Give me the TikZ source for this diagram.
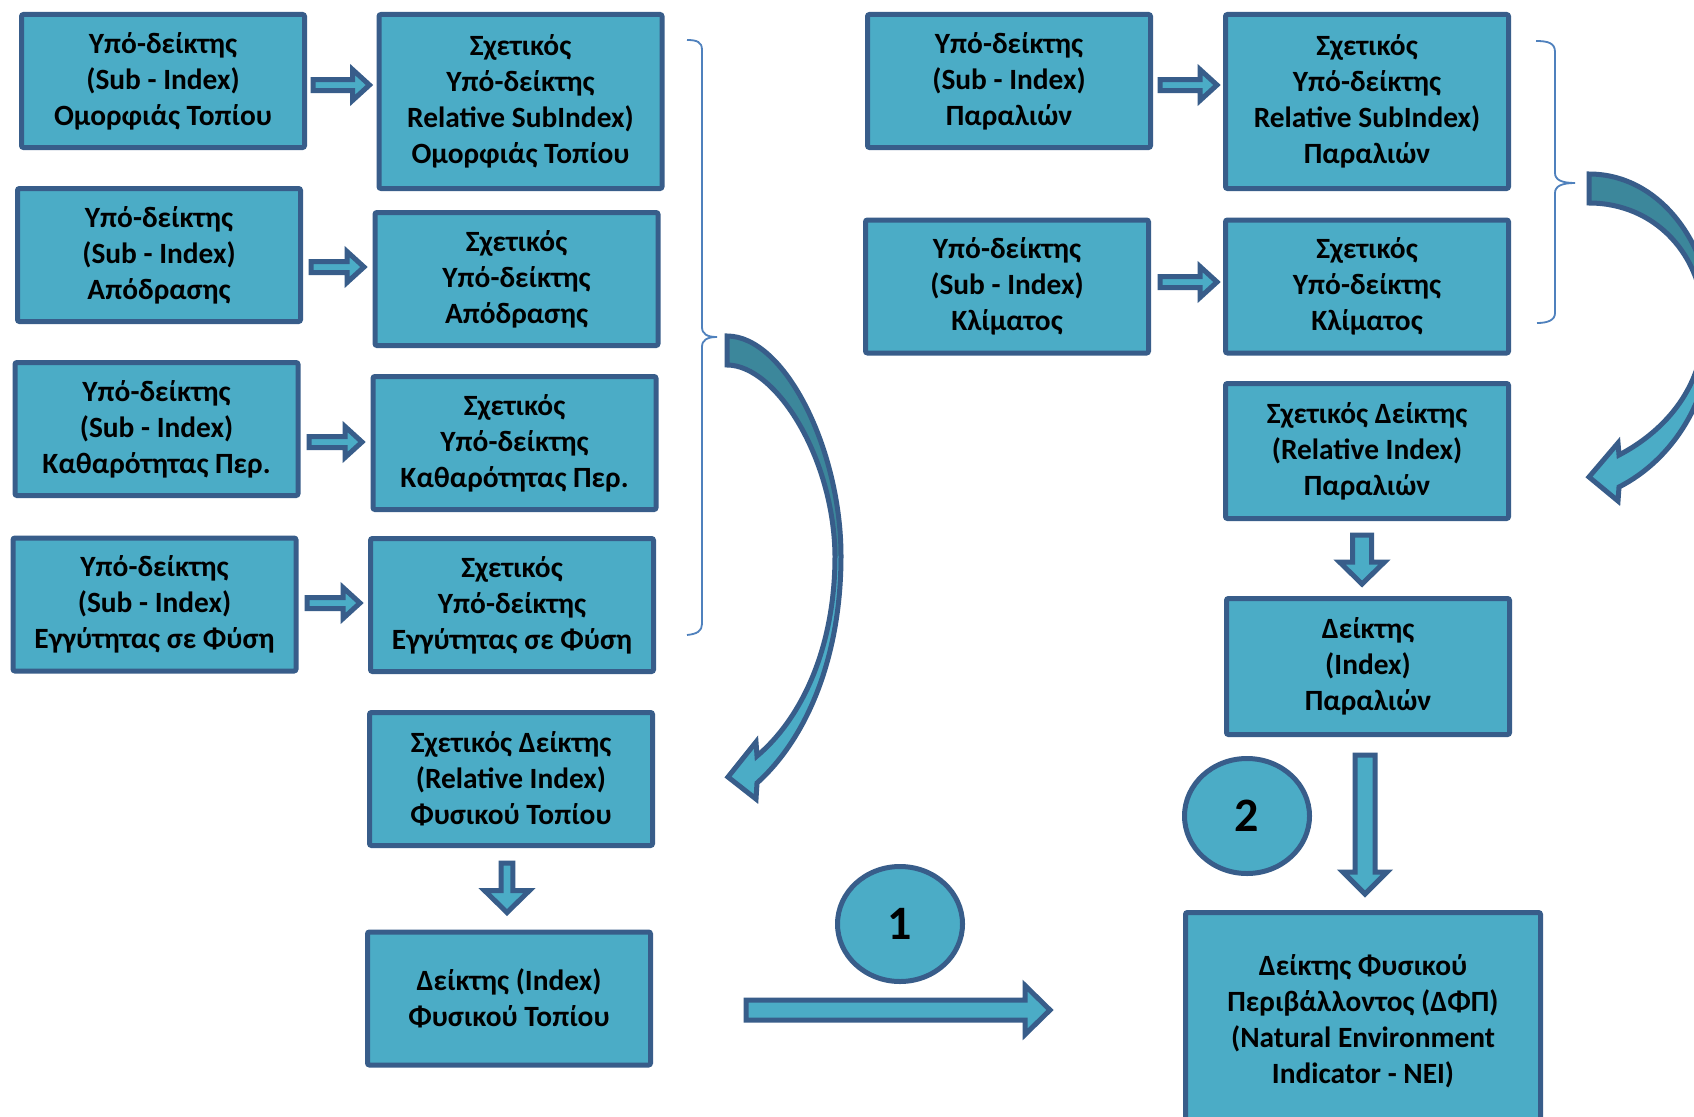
\documentclass[tikz,border=0pt]{standalone}
\usepackage{fontspec}
\setmainfont{Carlito}
\usetikzlibrary{calc,shapes.geometric}

\definecolor{boxfill}{HTML}{4BACC6}
\definecolor{boxline}{HTML}{385D8A}
\definecolor{ribbon}{HTML}{3C879B}
\definecolor{bracecol}{HTML}{4F81BD}

% right-pointing block arrow: tail, tip, shaft half-width, head half-width, head length
\newcommand\rightblock[5]{%
  \path[blockarrow] ($(#1)+(0,-#3)$) -- ($(#2)+(-#5,-#3)$) -- ($(#2)+(-#5,-#4)$)
    -- (#2) -- ($(#2)+(-#5,#4)$) -- ($(#2)+(-#5,#3)$) -- ($(#1)+(0,#3)$) -- cycle;}
% downward block arrow: tail, tip, shaft half-width, head half-width, head length
\newcommand\downblock[5]{%
  \path[blockarrow] ($(#1)+(-#3,0)$) -- ($(#2)+(-#3,-#5)$) -- ($(#2)+(-#4,-#5)$)
    -- (#2) -- ($(#2)+(#4,-#5)$) -- ($(#2)+(#3,-#5)$) -- ($(#1)+(#3,0)$) -- cycle;}

\begin{document}
\begin{tikzpicture}[x=1pt,y=-1pt,
  box/.style={draw=boxline, fill=boxfill, line width=5pt, rounded corners=2pt,
    inner sep=0pt, minimum width=283pt, minimum height=133pt, align=center,
    font=\fontsize{29.4}{36}\selectfont\bfseries},
  tallbox/.style={box, minimum height=174pt},
  blockarrow/.style={draw=boxline, fill=boxfill, line width=5pt, line join=miter},
  badge/.style={ellipse, draw=boxline, fill=boxfill, line width=5pt, inner sep=0pt,
    minimum width=125pt, minimum height=115pt, font=\fontsize{48}{48}\selectfont\bfseries},
  bracket/.style={draw=bracecol, line width=1.8pt},
  ribbonline/.style={draw=boxline, line width=5pt, line join=miter}]

\fill[white] (0,0) rectangle (1694,1116);
\useasboundingbox (0,0) rectangle (1694,1116);

% ---- natural landscape: sub-indices
\node[box] (L1) at (163,81)    {Υπό-δείκτης\\(Sub - Index)\\Ομορφιάς Τοπίου};
\node[box] (L2) at (159,255)   {Υπό-δείκτης\\(Sub - Index)\\Απόδρασης};
\node[box] (L3) at (156.5,429) {Υπό-δείκτης\\(Sub - Index)\\Καθαρότητας Περ.};
\node[box] (L4) at (154.5,604.5) {Υπό-δείκτης\\(Sub - Index)\\Εγγύτητας σε Φύση};

% ---- natural landscape: relative sub-indices and indices
\node[tallbox] (M1) at (520.5,101.5) {Σχετικός\\Υπό-δείκτης\\Relative SubIndex)\\Ομορφιάς Τοπίου};
\node[box] (M2) at (516.5,279) {Σχετικός\\Υπό-δείκτης\\Απόδρασης};
\node[box] (M3) at (514.5,443) {Σχετικός\\Υπό-δείκτης\\Καθαρότητας Περ.};
\node[box] (M4) at (512,605)   {Σχετικός\\Υπό-δείκτης\\Εγγύτητας σε Φύση};
\node[box] (M5) at (511,779)   {Σχετικός Δείκτης\\(Relative Index)\\Φυσικού Τοπίου};
\node[box] (M6) at (509,998.5) {Δείκτης (Index)\\Φυσικού Τοπίου};

% ---- beaches and climate
\node[box] (R1) at (1009,81)    {Υπό-δείκτης\\(Sub - Index)\\Παραλιών};
\node[box] (R2) at (1007,286.5) {Υπό-δείκτης\\(Sub - Index)\\Κλίματος};
\node[tallbox] (RM1) at (1367,101.5) {Σχετικός\\Υπό-δείκτης\\Relative SubIndex)\\Παραλιών};
\node[box] (RM2) at (1367,286.5) {Σχετικός\\Υπό-δείκτης\\Κλίματος};
\node[box, minimum height=135pt] (RM3) at (1367,451) {Σχετικός Δείκτης\\(Relative Index)\\Παραλιών};
\node[box, minimum height=136pt] (RM4) at (1368,666.5) {Δείκτης\\(Index)\\Παραλιών};

% ---- final indicator (runs past the lower edge)
\node[box, minimum width=355pt, minimum height=217pt] (NEI) at (1363,1021)
  {Δείκτης Φυσικού\\Περιβάλλοντος (ΔΦΠ)\\(Natural Environment\\Indicator - NEI)};

% ---- badges
\node[badge] (B1) at (900,924) {1};
\node[badge] (B2) at (1247,816) {2};

% ---- horizontal block arrows
\coordinate (a1t) at ($(L1.east)+(6,4)$);    \coordinate (a1h) at ($(M1.west |- a1t)+(-7,0)$);
\coordinate (a2t) at ($(L2.east)+(8,12)$);   \coordinate (a2h) at ($(M2.west |- a2t)+(-8.5,0)$);
\coordinate (a3t) at ($(L3.east)+(8.5,13)$); \coordinate (a3h) at ($(M3.west |- a3t)+(-8.5,0)$);
\coordinate (a4t) at ($(L4.east)+(8.5,-1.5)$); \coordinate (a4h) at ($(M4.west |- a4t)+(-8,0)$);
\coordinate (a5t) at ($(R1.east)+(7,4)$);    \coordinate (a5h) at ($(RM1.west |- a5t)+(-6,0)$);
\coordinate (a6t) at ($(R2.east)+(9,-4.5)$); \coordinate (a6h) at ($(RM2.west |- a6t)+(-6,0)$);
\rightblock{a1t}{a1h}{5.5}{15.5}{17}
\rightblock{a2t}{a2h}{5.5}{15.5}{17}
\rightblock{a3t}{a3h}{5.5}{15.5}{17}
\rightblock{a4t}{a4h}{5.5}{15.5}{17}
\rightblock{a5t}{a5h}{5.5}{15.5}{17}
\rightblock{a6t}{a6h}{5.5}{15.5}{17}

% ---- downward block arrows
\coordinate (d1t) at ($(M5.south)+(-4,15)$);  \coordinate (d1h) at ($(d1t |- M6.north)+(0,-17)$);
\coordinate (d2t) at ($(RM3.south)+(-5,14)$); \coordinate (d2h) at ($(d2t |- RM4.north)+(0,-12)$);
\coordinate (d3t) at ($(RM4.south)+(-3,18)$); \coordinate (d3h) at ($(d3t |- NEI.north)+(0,-16)$);
\downblock{d1t}{d1h}{5.8}{22.5}{22}
\downblock{d2t}{d2h}{9.5}{22.5}{22}
\downblock{d3t}{d3h}{10}{22}{22}

% ---- long arrow into the final indicator
\coordinate (lt) at ($(M6.east)+(93,11.5)$); \coordinate (lh) at ($(NEI.west |- lt)+(-133,0)$);
\rightblock{lt}{lh}{10}{24.5}{25}

% ---- braces
\draw[bracket] (687,40) .. controls (697,40) and (702,42) .. (702,50) -- (702,327)
  .. controls (702,334) and (707,337) .. (717,337)
  .. controls (707,337) and (702,340) .. (702,347) -- (702,624)
  .. controls (702,631) and (697,634) .. (687,635);
\draw[bracket] (1536,41) .. controls (1548,41) and (1555,43) .. (1555,52) -- (1555,173)
  .. controls (1555,180) and (1562,183) .. (1575,183)
  .. controls (1562,183) and (1555,186) .. (1555,193) -- (1555,313)
  .. controls (1555,320) and (1548,323) .. (1537,323);

% ---- curved arrow, left group
\fill[boxfill] (727,336) .. controls (785,336) and (841,450) .. (841,556)
  .. controls (841,660) and (805,740) .. (757,783) -- (756,799) -- (728,777) -- (756,742) -- (757,756)
  .. controls (800,720) and (835,650) .. (835,556)
  .. controls (834,458) and (776,365) .. (727,365) -- cycle;
\fill[ribbon] (727,336) .. controls (785,336) and (841,450) .. (841,556) -- (835,556)
  .. controls (834,458) and (776,365) .. (727,365) -- cycle;
\path[ribbonline] (727,336) .. controls (785,336) and (841,450) .. (841,556)
  .. controls (841,660) and (805,740) .. (757,783) -- (756,799) -- (728,777) -- (756,742) -- (757,756)
  .. controls (800,720) and (835,650) .. (835,556)
  .. controls (834,458) and (776,365) .. (727,365) -- cycle;

% ---- curved arrow, right group
\fill[boxfill] (1589,174) .. controls (1660,174) and (1712,245) .. (1712,325)
  .. controls (1712,400) and (1672,460) .. (1619,487) -- (1618,501) -- (1589,477) -- (1618,443) -- (1619,455)
  .. controls (1667,430) and (1704,385) .. (1704,325)
  .. controls (1704,255) and (1655,203) .. (1589,203) -- cycle;
\fill[ribbon] (1589,174) .. controls (1660,174) and (1712,245) .. (1712,325) -- (1704,325)
  .. controls (1704,255) and (1655,203) .. (1589,203) -- cycle;
\path[ribbonline] (1589,174) .. controls (1660,174) and (1712,245) .. (1712,325)
  .. controls (1712,400) and (1672,460) .. (1619,487) -- (1618,501) -- (1589,477) -- (1618,443) -- (1619,455)
  .. controls (1667,430) and (1704,385) .. (1704,325)
  .. controls (1704,255) and (1655,203) .. (1589,203) -- cycle;

\end{tikzpicture}
\end{document}
